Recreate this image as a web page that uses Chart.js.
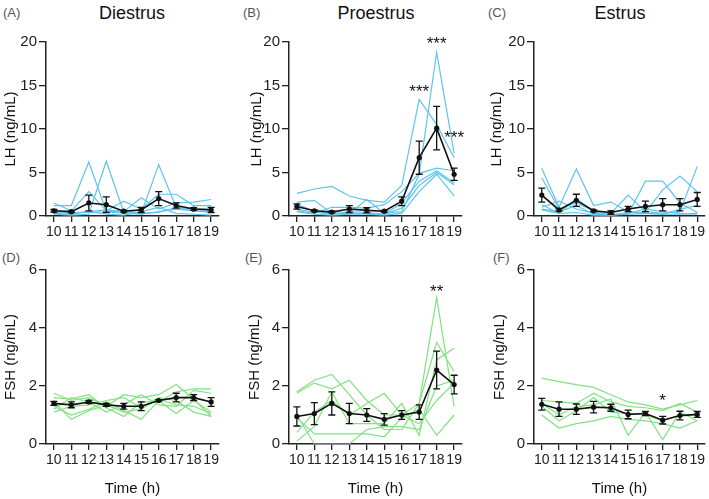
<!DOCTYPE html>
<html>
<head>
<meta charset="utf-8">
<script src="https://cdn.jsdelivr.net/npm/chart.js@4"></script>
<style>
  body { margin: 0; background: #fff; }
  #wrap { position: relative; width: 709px; height: 499px; font-family: "Liberation Sans", Arial, sans-serif; }
  .panel { position: absolute; }
  .title { position: absolute; font-size: 18px; color: #111; transform: translate(-50%, -50%); white-space: nowrap; }
  .tag { position: absolute; font-size: 13px; color: #555; transform: translateY(-50%); }
</style>
</head>
<body>
<div id="wrap">
  <div class="tag" style="left:3px;top:12px">(A)</div>
  <div class="tag" style="left:243px;top:12px">(B)</div>
  <div class="tag" style="left:488px;top:12px">(C)</div>
  <div class="tag" style="left:2px;top:257px">(D)</div>
  <div class="tag" style="left:245px;top:257px">(E)</div>
  <div class="tag" style="left:493px;top:257px">(F)</div>
  <div class="title" style="left:132px;top:13px">Diestrus</div>
  <div class="title" style="left:376px;top:13px">Proestrus</div>
  <div class="title" style="left:620px;top:13px">Estrus</div>

  <canvas class="panel" id="chartA" width="236" height="250" style="left:0;top:0"></canvas>
  <canvas class="panel" id="chartB" width="236" height="250" style="left:236px;top:0"></canvas>
  <canvas class="panel" id="chartC" width="237" height="250" style="left:472px;top:0"></canvas>
  <canvas class="panel" id="chartD" width="236" height="249" style="left:0;top:250px"></canvas>
  <canvas class="panel" id="chartE" width="236" height="249" style="left:236px;top:250px"></canvas>
  <canvas class="panel" id="chartF" width="237" height="249" style="left:472px;top:250px"></canvas>
</div>
<script>
Chart.defaults.font.family = '"Liberation Sans", Arial, sans-serif';
Chart.defaults.color = '#222';

const hours = [10, 11, 12, 13, 14, 15, 16, 17, 18, 19];
const lhTicks = [0, 5, 10, 15, 20];
const fshTicks = [0, 2, 4, 6];

// LH - diestrus
const lhDiMice = [
  [1.2, 1.2, 6.2, 0.5, 0.3, 0.2, 0.5, 0.8, 0.6, 0.5],
  [0.2, 0.1, 0.2, 6.3, 0.4, 0.3, 0.4, 1.0, 0.6, 0.4],
  [0.5, 0.4, 0.4, 0.5, 0.6, 0.3, 5.9, 1.0, 0.8, 0.8],
  [1.5, 0.6, 2.8, 0.6, 1.7, 0.8, 2.5, 2.5, 1.2, 1.2],
  [0.4, 0.3, 0.5, 0.7, 0.5, 2.1, 0.8, 1.5, 1.6, 1.9],
  [0.3, 0.2, 0.5, 0.2, 0.1, 0.5, 1.0, 0.3, 0.2, 0.1]
];
const lhDiMean = [0.6, 0.5, 1.5, 1.3, 0.55, 0.7, 2.0, 1.2, 0.8, 0.7];
const lhDiSem = [0.15, 0.1, 0.9, 0.9, 0.1, 0.3, 0.8, 0.3, 0.15, 0.3];

// LH - proestrus
const lhProMice = [
  [2.6, 3.1, 3.4, 2.3, 1.8, 1.6, 3.5, 13.4, 10.5, 6.7],
  [1.6, 1.8, 0.3, 0.3, 1.9, 0.3, 0.5, 4.8, 18.8, 7.2],
  [0.6, 0.3, 1.0, 1.0, 0.9, 1.3, 2.8, 4.9, 5.5, 5.2],
  [1.4, 0.5, 0.2, 0.5, 0.4, 0.2, 1.5, 4.0, 5.2, 3.8],
  [0.8, 0.4, 0.3, 0.3, 0.3, 0.2, 0.9, 3.5, 5.0, 3.6],
  [0.5, 0.2, 0.1, 0.2, 0.2, 0.1, 0.3, 2.8, 4.8, 2.3]
];
const lhProMean = [1.1, 0.6, 0.45, 0.8, 0.65, 0.55, 1.7, 6.7, 10.1, 4.8];
const lhProSem = [0.3, 0.1, 0.1, 0.4, 0.3, 0.1, 0.5, 1.9, 2.5, 0.7];
const lhProStars = [
  { hour: 17, level: 14.8, text: '***' },
  { hour: 18, level: 20.3, text: '***' },
  { hour: 19, level: 9.5, text: '***' }
];

// LH - estrus
const lhEsMice = [
  [5.5, 1.0, 5.4, 1.2, 1.6, 0.5, 0.4, 3.0, 4.6, 2.8],
  [4.4, 0.8, 1.5, 0.6, 0.3, 2.4, 0.5, 0.3, 0.5, 5.7],
  [1.0, 1.7, 0.8, 0.3, 0.2, 0.2, 4.0, 4.0, 1.5, 0.4],
  [1.3, 0.3, 2.0, 0.5, 0.1, 0.3, 0.8, 0.5, 0.3, 0.2],
  [0.8, 0.5, 1.2, 0.2, 0.1, 0.2, 0.3, 0.2, 0.8, 1.2],
  [0.7, 0.3, 0.4, 0.1, 0.1, 0.4, 0.3, 0.2, 0.2, 0.3]
];
const lhEsMean = [2.4, 0.7, 1.8, 0.6, 0.4, 0.8, 1.1, 1.3, 1.3, 1.9];
const lhEsSem = [0.8, 0.15, 0.7, 0.1, 0.2, 0.3, 0.6, 0.7, 0.7, 0.8];

// FSH - diestrus
const fshDiMice = [
  [1.75, 1.5, 1.6, 1.3, 1.7, 1.6, 1.7, 2.05, 1.55, 0.95],
  [1.6, 1.55, 1.7, 1.25, 0.95, 1.45, 1.45, 1.8, 1.9, 1.9],
  [1.2, 1.6, 1.45, 1.1, 1.35, 1.7, 1.35, 1.3, 1.85, 1.75],
  [1.3, 1.0, 1.2, 1.45, 1.15, 0.85, 1.5, 1.05, 1.5, 1.1],
  [1.1, 1.3, 1.35, 1.5, 1.6, 1.25, 1.6, 1.5, 1.1, 0.95],
  [1.45, 0.85, 1.15, 1.35, 1.1, 1.2, 1.55, 1.35, 1.3, 1.05]
];
const fshDiMean = [1.4, 1.35, 1.45, 1.35, 1.3, 1.3, 1.5, 1.6, 1.6, 1.45];
const fshDiSem = [0.07, 0.1, 0.05, 0.05, 0.1, 0.15, 0.03, 0.15, 0.1, 0.15];

// FSH - proestrus
const fshProMice = [
  [1.8, 2.2, 2.4, 1.7, 1.0, 0.5, 0.5, 1.4, 5.05, 1.3],
  [1.75, 2.1, 1.9, 2.2, 1.5, 1.0, 1.0, 1.4, 3.5, 2.5],
  [0.1, 0.6, 1.8, 0.7, 0.7, 0.7, 1.4, 0.3, 2.9, 3.3],
  [0.4, 1.1, 1.5, 1.0, 1.4, 1.75, 1.0, 0.7, 1.5, 2.1],
  [0.9, 0.35, 0.35, 0.35, 0.35, 0.25, 0.9, 1.2, 0.3, 1.0],
  [1.0, 0.0, 0.0, 0.0, 0.5, 0.6, 0.6, 0.5, 2.0, 2.2]
];
const fshProMean = [0.95, 1.05, 1.4, 1.05, 1.0, 0.85, 1.0, 1.1, 2.55, 2.05];
const fshProSem = [0.33, 0.38, 0.4, 0.35, 0.22, 0.2, 0.15, 0.25, 0.65, 0.32];
const fshProStars = [{ hour: 18, level: 5.4, text: '**' }];

// FSH - estrus
const fshEsMice = [
  [2.27, 2.15, 2.05, 1.95, 1.7, 1.45, 1.35, 1.2, 1.35, 1.5],
  [1.5, 1.45, 1.4, 1.75, 1.45, 1.3, 1.25, 1.15, 1.4, 1.1],
  [1.4, 1.0, 1.3, 1.35, 1.55, 0.3, 1.1, 0.15, 1.1, 0.8],
  [1.0, 0.55, 0.7, 0.8, 0.95, 0.85, 0.8, 0.7, 0.55, 0.8],
  [1.3, 0.8, 1.15, 1.6, 1.1, 1.05, 1.0, 0.8, 1.0, 1.0]
];
const fshEsMean = [1.37, 1.2, 1.2, 1.27, 1.25, 1.02, 1.05, 0.82, 0.98, 1.02];
const fshEsSem = [0.2, 0.25, 0.18, 0.2, 0.12, 0.15, 0.07, 0.13, 0.15, 0.1];
const fshEsStars = [{ hour: 17, level: 1.67, text: '*' }];

const lhColor = '#5ec4ee';
const fshColor = '#80e280';

const makeOverlay = (mean, sem, stars) => ({
  id: 'overlay',
  afterDatasetsDraw(chart) {
    const { ctx, scales: { x, y } } = chart;
    ctx.save();
    ctx.strokeStyle = '#111';
    ctx.lineWidth = 1.3;
    mean.forEach((m, i) => {
      const px = x.getPixelForValue(hours[i]);
      const top = y.getPixelForValue(m + sem[i]);
      const bot = y.getPixelForValue(Math.max(m - sem[i], 0));
      ctx.beginPath();
      ctx.moveTo(px, top); ctx.lineTo(px, bot);
      ctx.moveTo(px - 3.5, top); ctx.lineTo(px + 3.5, top);
      ctx.moveTo(px - 3.5, bot); ctx.lineTo(px + 3.5, bot);
      ctx.stroke();
    });
    ctx.fillStyle = '#111';
    ctx.font = '17px "Liberation Sans", Arial, sans-serif';
    ctx.textAlign = 'center';
    stars.forEach(s => {
      ctx.fillText(s.text, x.getPixelForValue(s.hour), y.getPixelForValue(s.level) + 10);
    });
    ctx.restore();
  }
});

const makePanel = (id, cfg) => {
  const mouseSets = cfg.mice.map(vals => ({
    data: vals.map((v, i) => ({ x: hours[i], y: v })),
    borderColor: cfg.color,
    borderWidth: 1.2,
    pointRadius: 0,
    tension: 0,
    order: 2
  }));
  const meanSet = {
    data: cfg.mean.map((v, i) => ({ x: hours[i], y: v })),
    borderColor: '#111',
    borderWidth: 1.6,
    pointRadius: 2.6,
    pointBackgroundColor: '#111',
    pointBorderWidth: 0,
    tension: 0,
    order: 0
  };
  return new Chart(document.getElementById(id), {
    type: 'line',
    data: { datasets: [meanSet, ...mouseSets] },
    plugins: [makeOverlay(cfg.mean, cfg.sem, cfg.stars || [])],
    options: {
      responsive: false,
      animation: false,
      layout: { padding: { left: cfg.padL, right: cfg.padR, top: cfg.padT, bottom: cfg.padB } },
      plugins: { legend: { display: false }, tooltip: { enabled: false } },
      scales: {
        x: {
          type: 'linear',
          min: 9.55,
          max: 19.45,
          afterBuildTicks: s => { s.ticks = hours.map(v => ({ value: v })); },
          afterFit: s => { s.height = cfg.xH; },
          ticks: { font: { size: 14 }, padding: 2, color: '#222', maxRotation: 0, autoSkip: false },
          grid: { drawOnChartArea: false, tickLength: 6, color: '#222', lineWidth: 1.3 },
          border: { color: '#222', width: 1.5 },
          title: { display: cfg.bottom, text: 'Time (h)', font: { size: 15 }, color: '#111', padding: 0 }
        },
        y: {
          min: 0,
          max: cfg.ticks[cfg.ticks.length - 1],
          afterBuildTicks: s => { s.ticks = cfg.ticks.map(v => ({ value: v })); },
          afterFit: s => { s.width = cfg.yW; },
          ticks: { font: { size: 15 }, padding: 2, color: '#222' },
          grid: { drawOnChartArea: false, tickLength: 7, color: '#222', lineWidth: 1.3 },
          border: { color: '#222', width: 1.5 },
          title: { display: true, text: cfg.yTitle, font: { size: 15 }, color: '#111', padding: 0 }
        }
      }
    }
  });
};

const topRow = { padT: 42, padB: 0, xH: 34, ticks: lhTicks, yTitle: 'LH (ng/mL)', color: lhColor, bottom: false };
const botRow = { padT: 20, padB: 1, xH: 54, ticks: fshTicks, yTitle: 'FSH (ng/mL)', color: fshColor, bottom: true };

makePanel('chartA', { ...topRow, padL: 2, yW: 44, padR: 17, mice: lhDiMice, mean: lhDiMean, sem: lhDiSem });
makePanel('chartB', { ...topRow, padL: 12, yW: 41, padR: 10, mice: lhProMice, mean: lhProMean, sem: lhProSem, stars: lhProStars });
makePanel('chartC', { ...topRow, padL: 16, yW: 46, padR: 3, mice: lhEsMice, mean: lhEsMean, sem: lhEsSem });
makePanel('chartD', { ...botRow, padL: 2, yW: 44, padR: 17, mice: fshDiMice, mean: fshDiMean, sem: fshDiSem });
makePanel('chartE', { ...botRow, padL: 10, yW: 43, padR: 10, mice: fshProMice, mean: fshProMean, sem: fshProSem, stars: fshProStars });
makePanel('chartF', { ...botRow, padL: 19, yW: 43, padR: 3, mice: fshEsMice, mean: fshEsMean, sem: fshEsSem, stars: fshEsStars });
</script>
</body>
</html>
